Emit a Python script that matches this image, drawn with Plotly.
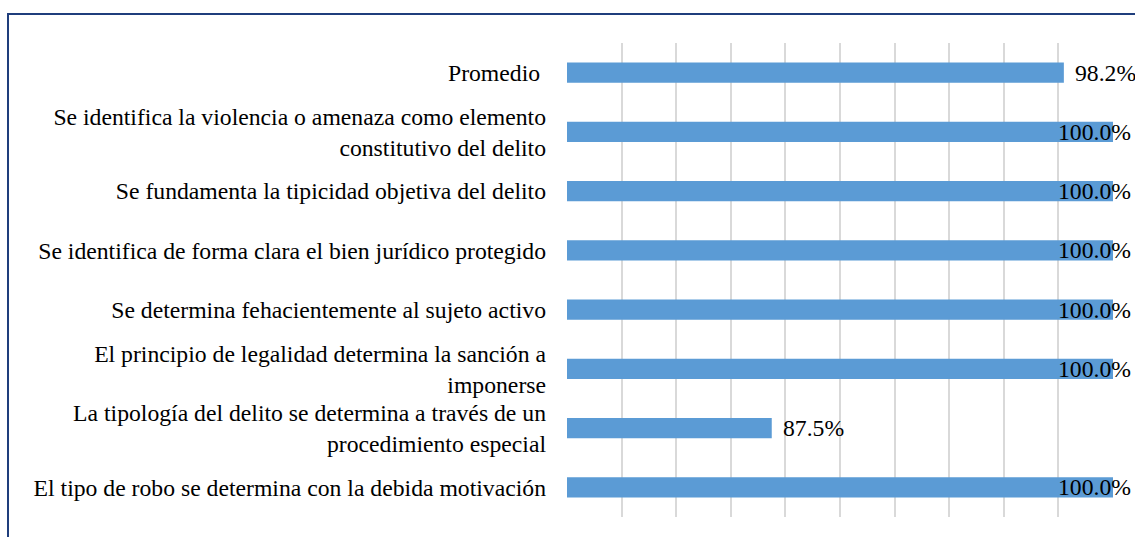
import plotly.graph_objects as go

categories = [
    "El tipo de robo se determina con la debida motivación",
    "La tipología del delito se determina a través de un<br>procedimiento especial",
    "El principio de legalidad determina la sanción a<br>imponerse",
    "Se determina fehacientemente al sujeto activo",
    "Se identifica de forma clara el bien jurídico protegido",
    "Se fundamenta la tipicidad objetiva del delito",
    "Se identifica la violencia o amenaza como elemento<br>constitutivo del delito",
    "Promedio\u00a0",
]
values = [100.0, 87.5, 100.0, 100.0, 100.0, 100.0, 100.0, 98.2]
x_min, x_max, x_step = 80, 100, 2

FONT = "'Liberation Serif', 'Times New Roman', Times, serif"
FS = 23.7
BAR = "#5B9BD5"

fig = go.Figure()
fig.add_trace(go.Bar(
    y=categories, x=values, orientation="h",
    marker=dict(color=BAR, line=dict(width=0)),
    width=0.34, hoverinfo="skip",
))

# data labels (clamped to the right edge like the original)
for cat, v in zip(categories, values):
    txt = f"{v:.1f}%"
    if v >= 99.5:
        fig.add_annotation(x=1, xref="paper", y=cat, yref="y", text=txt,
                           showarrow=False, xanchor="right", xshift=20,
                           font=dict(family=FONT, size=FS, color="black"))
    else:
        fig.add_annotation(x=v, xref="x", y=cat, yref="y", text=txt,
                           showarrow=False, xanchor="left", xshift=9,
                           font=dict(family=FONT, size=FS, color="black"))

# outer frame (partially visible)
fig.add_shape(type="rect", xref="paper", yref="paper",
              x0=-1.0238, x1=1.2, y0=-0.2, y1=1.0612,
              line=dict(color="#1F3E7C", width=2), fillcolor="rgba(0,0,0,0)",
              layer="above")

fig.update_layout(
    width=1135, height=537,
    margin=dict(l=567, r=22, t=43, b=20),
    paper_bgcolor="white", plot_bgcolor="white",
    showlegend=False, bargap=0.66,
    font=dict(family=FONT, size=FS, color="black"),
    xaxis=dict(range=[x_min, x_max], dtick=x_step, tick0=x_min,
               showticklabels=False, showgrid=True, gridcolor="#D9D9D9",
               gridwidth=1.5, zeroline=False, showline=False, ticks=""),
    yaxis=dict(showgrid=False, showline=False, ticks="", automargin=False,
               ticklabelstandoff=20,
               tickfont=dict(family=FONT, size=FS, color="black")),
)

fig.write_html("out.html", config={"displayModeBar": False},
               post_script="document.body.style.margin='0';document.body.style.overflow='hidden';")
